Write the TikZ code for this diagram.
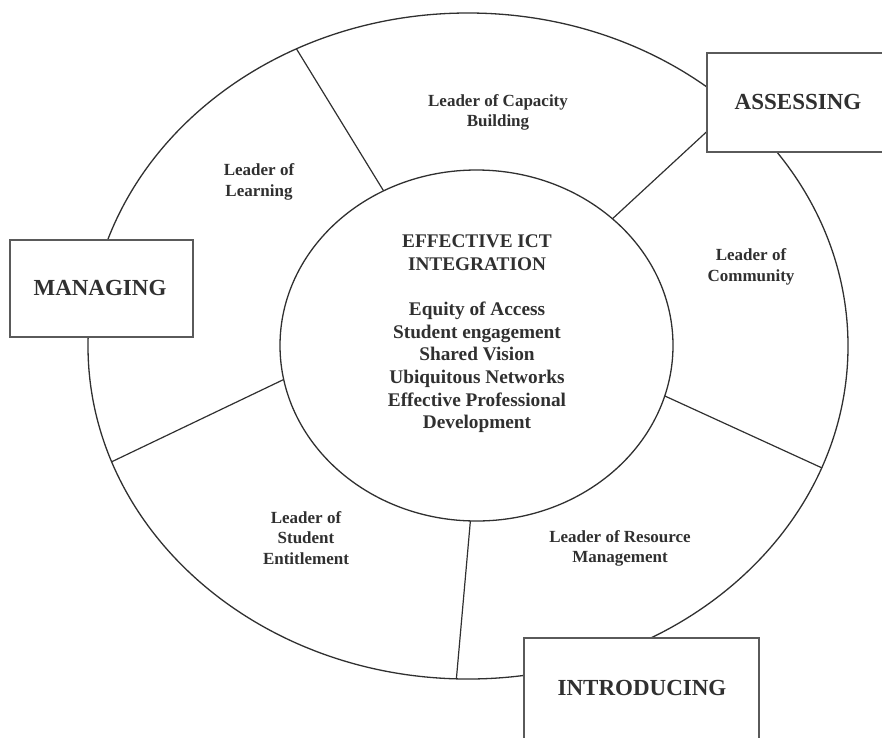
\documentclass[tikz,border=0pt]{standalone}
\usepackage{fontspec}
\setmainfont{Liberation Serif}
\usetikzlibrary{shapes.geometric}
\definecolor{ink}{HTML}{303030}
\definecolor{frame}{HTML}{5a5a5a}
\begin{document}
\begin{tikzpicture}[x=1pt,y=-1pt,
  ring/.style={draw=ink, line width=1.3pt, ellipse, inner sep=0pt, outer sep=0pt},
  spoke/.style={draw=ink, line width=1.2pt},
  phase/.style={draw=frame, line width=1.8pt, fill=white, inner sep=0pt},
  phasetext/.style={font=\fontsize{23}{27}\selectfont\bfseries, text=ink},
  role/.style={align=center, font=\fontsize{17}{20.7}\selectfont\bfseries, text=ink},
  core/.style={align=center, font=\fontsize{19.3}{22.6}\selectfont\bfseries, text=ink}]
\useasboundingbox (0,0) rectangle (882,737);
\clip (0,0) rectangle (882,737);

% outer ring of leadership roles and central core
\node[ring, minimum width=760pt, minimum height=666pt] (outer) at (468,346) {};
\node[ring, minimum width=393pt, minimum height=351pt] (inner) at (476.5,345.5) {};

% dividers between the role segments
\draw[spoke] (inner.121)   -- (outer.120.1);
\draw[spoke] (inner.43.3)  -- (outer.42.5);
\draw[spoke] (inner.-15.9) -- (outer.-19.3);
\draw[spoke] (inner.-92.8) -- (outer.-92.2);
\draw[spoke] (inner.190.3) -- (outer.198.3);

% central text
\node[core] (core) at (477,334) {EFFECTIVE ICT\\INTEGRATION\\[22.6pt]Equity of Access\\Student engagement\\Shared Vision\\Ubiquitous Networks\\Effective Professional\\Development};

% leadership roles
\node[role] (capacity)  at (498,112.5) {Leader of Capacity\\Building};
\node[role] (learning)  at (259,182)   {Leader of\\Learning};
\node[role] (community) at (751,267)   {Leader of\\Community};
\node[role] (student)   at (306,538)   {Leader of\\Student\\Entitlement};
\node[role] (resource)  at (620,548.5) {Leader of Resource\\Management};

% phase boxes
\node[phase, minimum width=183pt, minimum height=97pt]  (managingbox)    at (101.5,288.5) {};
\node[phase, minimum width=188pt, minimum height=99pt]  (assessingbox)   at (801,102.5)   {};
\node[phase, minimum width=235pt, minimum height=122pt] (introducingbox) at (641.5,699)   {};
\node[phasetext] (managing)    at (100,288) {MANAGING};
\node[phasetext] (assessing)   at (798,102) {ASSESSING};
\node[phasetext] (introducing) at (642,688) {INTRODUCING};
\end{tikzpicture}
\end{document}
